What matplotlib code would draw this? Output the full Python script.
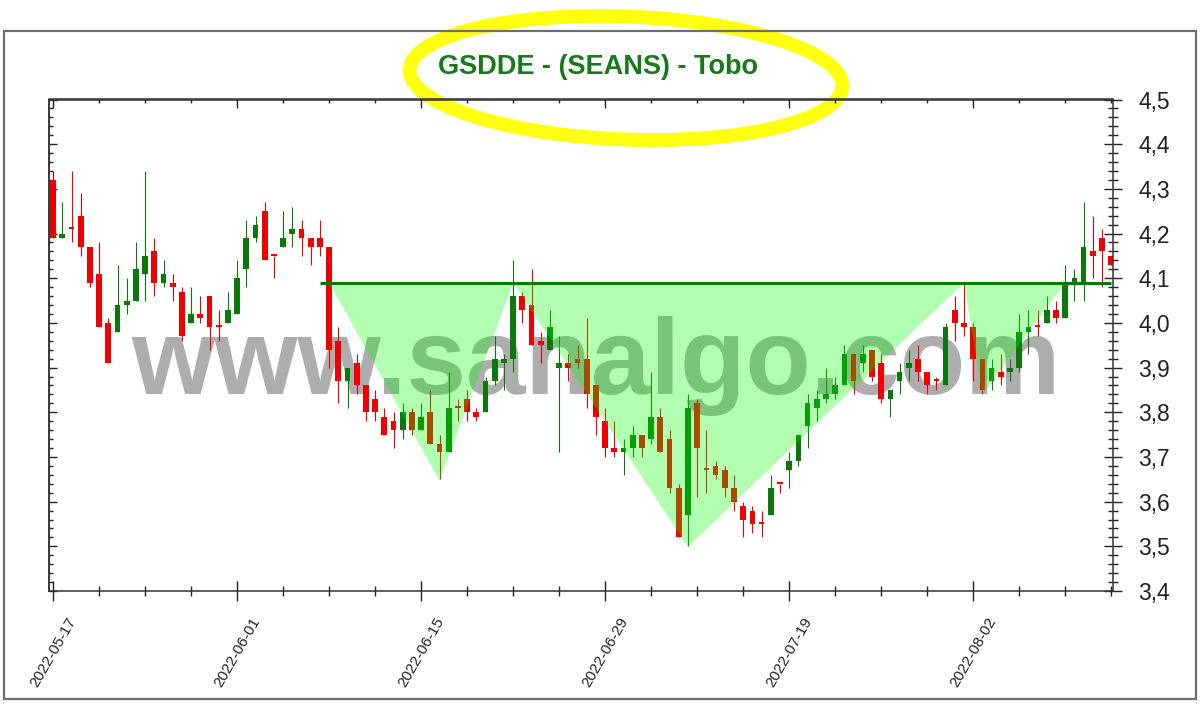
import matplotlib
matplotlib.use('Agg')
import numpy as np
import matplotlib.pyplot as plt
from matplotlib.patches import Ellipse, Rectangle, Polygon
from matplotlib.ticker import MultipleLocator, FuncFormatter

plt.rcParams['font.family'] = ['Liberation Sans', 'DejaVu Sans']

# seans bars (2 per trading day)
opens = [4.32, 4.19, 4.21, 4.24, 4.17, 4.11, 4.00, 3.98, 4.04, 4.05,
         4.11, 4.16, 4.09, 4.09, 4.07, 4.00, 4.02, 4.06, 3.99, 4.00,
         4.02, 4.12, 4.19, 4.25, 4.15, 4.17, 4.20, 4.21, 4.19, 4.19,
         4.17, 3.96, 3.87, 3.91, 3.86, 3.83, 3.79, 3.78, 3.76, 3.80,
         3.76, 3.80, 3.73, 3.71, 3.81, 3.83, 3.80, 3.80, 3.87, 3.91,
         3.92, 4.06, 4.04, 3.96, 3.94, 3.90, 3.91, 3.92, 3.92, 3.86,
         3.78, 3.72, 3.71, 3.72, 3.75, 3.74, 3.79, 3.74, 3.63, 3.57,
         3.82, 3.67, 3.68, 3.67, 3.63, 3.59, 3.58, 3.55, 3.57, 3.64,
         3.67, 3.69, 3.77, 3.81, 3.83, 3.84, 3.86, 3.93, 3.91, 3.94,
         3.91, 3.83, 3.87, 3.90, 3.92, 3.89, 3.87, 3.86, 4.03, 4.00,
         3.99, 3.92, 3.87, 3.89, 3.89, 3.90, 3.98, 3.99, 4.00, 4.03,
         4.01, 4.09, 4.09, 4.16, 4.19, 4.15]
highs = [4.34, 4.27, 4.34, 4.29, 4.17, 4.18, 4.01, 4.13, 4.10, 4.18,
         4.34, 4.19, 4.14, 4.11, 4.08, 4.08, 4.06, 4.06, 4.03, 4.07,
         4.14, 4.23, 4.24, 4.27, 4.15, 4.25, 4.26, 4.23, 4.19, 4.23,
         4.17, 3.99, 3.90, 3.93, 3.86, 3.85, 3.81, 3.80, 3.82, 3.81,
         3.82, 3.85, 3.75, 3.89, 3.83, 3.85, 3.81, 3.88, 3.97, 3.93,
         4.14, 4.07, 4.12, 3.98, 4.03, 3.97, 3.93, 3.95, 4.01, 3.86,
         3.81, 3.78, 3.74, 3.77, 3.75, 3.89, 3.81, 3.76, 3.64, 3.84,
         3.83, 3.76, 3.69, 3.68, 3.66, 3.60, 3.59, 3.58, 3.66, 3.64,
         3.71, 3.75, 3.84, 3.85, 3.90, 3.88, 3.95, 3.93, 3.95, 3.94,
         3.93, 3.85, 3.91, 3.94, 3.95, 3.89, 3.88, 4.00, 4.06, 4.09,
         4.00, 3.92, 3.92, 3.93, 3.92, 4.02, 4.03, 4.03, 4.06, 4.05,
         4.13, 4.12, 4.27, 4.24, 4.21, 4.15]
lows = [4.19, 4.19, 4.18, 4.15, 4.08, 3.99, 3.91, 3.98, 4.02, 4.05,
        4.05, 4.06, 4.08, 4.05, 3.96, 4.00, 4.00, 3.94, 3.96, 4.00,
        4.02, 4.08, 4.18, 4.14, 4.10, 4.17, 4.17, 4.15, 4.13, 4.15,
        3.90, 3.82, 3.81, 3.84, 3.78, 3.78, 3.75, 3.72, 3.74, 3.75,
        3.76, 3.73, 3.65, 3.71, 3.78, 3.78, 3.78, 3.80, 3.86, 3.85,
        3.89, 4.00, 3.95, 3.91, 3.94, 3.71, 3.87, 3.90, 3.81, 3.75,
        3.70, 3.70, 3.66, 3.70, 3.70, 3.73, 3.71, 3.62, 3.52, 3.50,
        3.61, 3.62, 3.65, 3.61, 3.58, 3.52, 3.53, 3.52, 3.57, 3.62,
        3.63, 3.68, 3.72, 3.78, 3.82, 3.83, 3.86, 3.84, 3.89, 3.87,
        3.82, 3.79, 3.84, 3.87, 3.87, 3.84, 3.85, 3.86, 3.96, 3.97,
        3.87, 3.84, 3.85, 3.86, 3.87, 3.89, 3.93, 3.97, 4.00, 4.00,
        4.01, 4.05, 4.05, 4.10, 4.08, 4.13]
closes = [4.19, 4.20, 4.21, 4.17, 4.09, 3.99, 3.91, 4.04, 4.05, 4.12,
          4.15, 4.09, 4.11, 4.08, 3.97, 4.02, 4.01, 3.99, 3.99, 4.03,
          4.10, 4.19, 4.22, 4.14, 4.15, 4.19, 4.21, 4.19, 4.17, 4.17,
          3.94, 3.87, 3.90, 3.86, 3.80, 3.80, 3.75, 3.76, 3.80, 3.76,
          3.79, 3.73, 3.71, 3.81, 3.81, 3.80, 3.79, 3.87, 3.92, 3.92,
          4.06, 4.03, 3.95, 3.95, 3.99, 3.91, 3.90, 3.91, 3.84, 3.79,
          3.72, 3.71, 3.72, 3.75, 3.72, 3.79, 3.71, 3.63, 3.52, 3.81,
          3.72, 3.67, 3.66, 3.63, 3.60, 3.56, 3.55, 3.55, 3.63, 3.64,
          3.69, 3.75, 3.82, 3.83, 3.84, 3.86, 3.93, 3.87, 3.93, 3.88,
          3.83, 3.85, 3.89, 3.91, 3.89, 3.86, 3.87, 3.99, 4.00, 3.99,
          3.92, 3.85, 3.90, 3.88, 3.90, 3.98, 3.99, 3.99, 4.03, 4.01,
          4.09, 4.10, 4.17, 4.15, 4.16, 4.13]

tick_bars = [0, 20, 40, 60, 80, 100]
tick_dates = ['2022-05-17', '2022-06-01', '2022-06-15', '2022-06-29', '2022-07-19', '2022-08-02']

# tobo (inverse head & shoulders) pattern
neckline = 4.09
neck_from, neck_to = 29, 115
left_shoulder = [(30, 4.09), (42, 3.647), (50, 4.09)]
head = [(50, 4.09), (69, 3.499), (99, 4.09)]
right_shoulder = [(99, 4.09), (101, 3.839), (110, 4.09)]

title = 'GSDDE - (SEANS) - Tobo'
watermark = 'www.sanalgo.com'

RED = '#f00000'
GREEN = '#0a780a'

fig = plt.figure(figsize=(12, 7.05), dpi=100)
fig.patch.set_facecolor('white')
ax = fig.add_axes([49 / 1200, 1 - 591 / 705, (1113 - 49) / 1200, (591 - 99.5) / 705])
ax.set_facecolor('none')

n = len(opens)
x = np.arange(n)
o = np.array(opens)
c = np.array(closes)
cols = [GREEN if c[i] > o[i] else RED for i in range(n)]
body_h = np.maximum(np.abs(c - o), 0.005)
body_b = np.minimum(o, c)

ax.vlines(x, lows, highs, colors=cols, lw=0.8, zorder=2)
ax.bar(x, body_h, bottom=body_b, width=0.62, color=cols, lw=0, zorder=2)

for tri in [left_shoulder, head, right_shoulder]:
    ax.add_patch(Polygon(tri, closed=True, facecolor=(0, 1, 0, 0.3), edgecolor='none', zorder=3))
ax.hlines(neckline, neck_from, neck_to, color='#0a780a', lw=2.2, zorder=4)

ax.text(596 / 1200, 1 - 394 / 705, watermark, transform=fig.transFigure, ha='center',
        va='baseline', fontsize=77, fontweight='bold', color='#adadad', zorder=1)

ax.set_xlim(-0.45, 115.2)
ax.set_ylim(3.4, 4.5)

# bottom / right axes
ax.set_xticks(tick_bars)
ax.set_xticklabels(tick_dates, rotation=60)
ax.xaxis.set_minor_locator(MultipleLocator(5))
ax.tick_params(axis='x', which='major', direction='inout', length=14.5, width=1,
               pad=10, labelsize=11, colors='#222222')
ax.tick_params(axis='x', which='minor', direction='inout', length=7, width=1, colors='#222222')

ax.yaxis.tick_right()
ax.set_yticks(np.arange(3.4, 4.51, 0.1))
ax.yaxis.set_minor_locator(MultipleLocator(0.02))
ax.yaxis.set_major_formatter(FuncFormatter(lambda v, p: f'{v:.1f}'.replace('.', ',')))
ax.tick_params(axis='y', which='major', direction='inout', length=12.5, width=1,
               pad=12, labelsize=16.5, colors='#222222')
ax.tick_params(axis='y', which='minor', direction='inout', length=6.5, width=1, colors='#222222')

# top / left axes, ticks pointing inwards
top = ax.secondary_xaxis('top')
top.set_xticks(tick_bars)
top.xaxis.set_minor_locator(MultipleLocator(5))
top.tick_params(which='major', direction='in', length=6.5, width=1, labeltop=False, colors='#222222')
top.tick_params(which='minor', direction='in', length=3.2, width=1, colors='#222222')

left = ax.secondary_yaxis('left')
left.set_yticks(np.arange(3.4, 4.51, 0.1))
left.yaxis.set_minor_locator(MultipleLocator(0.02))
left.tick_params(which='major', direction='in', length=6, width=1, labelleft=False, colors='#222222')
left.tick_params(which='minor', direction='in', length=3, width=1, colors='#222222')

for a in [ax, top, left]:
    for s in a.spines.values():
        s.set_color('#333333')
        s.set_linewidth(1.1)

# outer frame and the hand drawn yellow loop round the title
fig.add_artist(Rectangle((4 / 1200, 1 - 699 / 705), 1192 / 1200, 668 / 705,
                         transform=fig.transFigure, fill=False, edgecolor='#6e6e6e', lw=1.6))
fig.add_artist(Ellipse((6.26, (705 - 78) / 100), 4.33, 1.23, angle=-2.2,
                       transform=fig.dpi_scale_trans, fill=False, edgecolor='#ffff10',
                       lw=10, zorder=-1))

fig.text(598 / 1200, 1 - 74 / 705, title, ha='center', va='baseline', fontsize=19.5,
         fontweight='bold', color='#17791a')

fig.savefig('out.png', dpi=100)
